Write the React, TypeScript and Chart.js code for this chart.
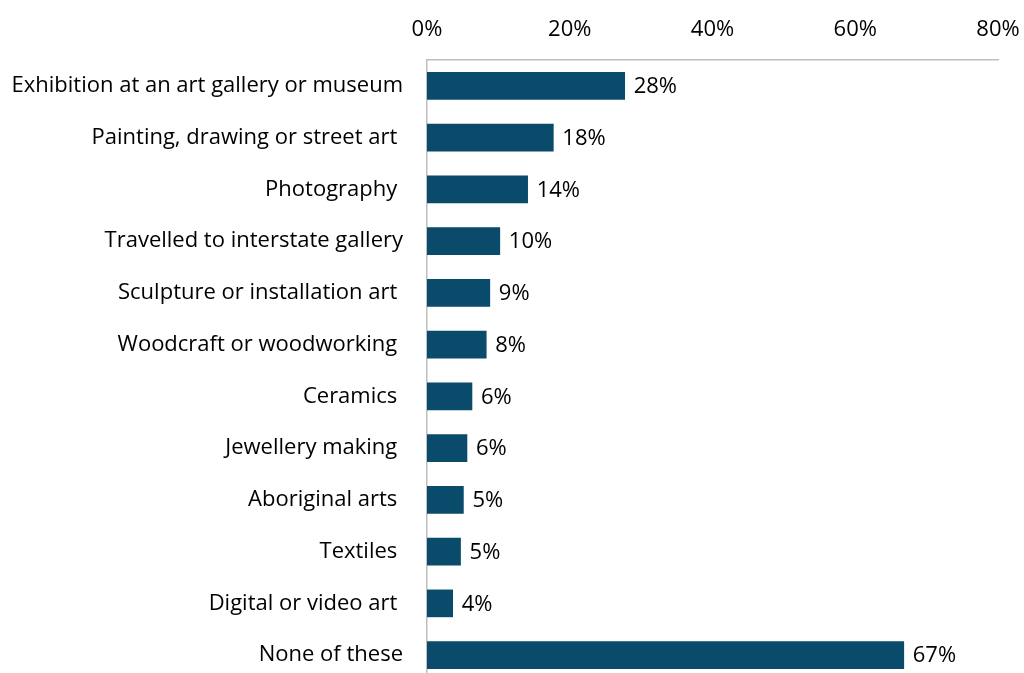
import React, { useEffect, useRef } from "react";
import { Chart, registerables } from "chart.js";

Chart.register(...registerables);

const categories = [
  "Exhibition at an art gallery or museum",
  "Painting, drawing or street art ",
  "Photography ",
  "Travelled to interstate gallery",
  "Sculpture or installation art ",
  "Woodcraft or woodworking ",
  "Ceramics ",
  "Jewellery making ",
  "Aboriginal arts ",
  "Textiles ",
  "Digital or video art ",
  "None of these",
];
const values = [27.7, 17.7, 14.1, 10.2, 8.8, 8.3, 6.3, 5.6, 5.1, 4.7, 3.6, 66.8];
const valueLabels = ["28%", "18%", "14%", "10%", "9%", "8%", "6%", "6%", "5%", "5%", "4%", "67%"];
const xTicks = [0, 20, 40, 60, 80];

const FONT = "'Open Sans'";
const SIZE = 22;

const valueLabelPlugin = {
  id: "valueLabels",
  afterDatasetsDraw(chart: any) {
    const ctx = chart.ctx;
    const meta = chart.getDatasetMeta(0);
    ctx.save();
    ctx.font = `${SIZE}px ${FONT}`;
    ctx.fillStyle = "#000";
    ctx.textAlign = "left";
    ctx.textBaseline = "middle";
    meta.data.forEach((bar: any, i: number) => {
      ctx.fillText(valueLabels[i], bar.x + 9, bar.y + 1);
    });
    ctx.restore();
  },
};

export default function App() {
  const ref = useRef<HTMLCanvasElement>(null);
  useEffect(() => {
    document.body.style.margin = "0";
    const chart = new Chart(ref.current!, {
      type: "bar",
      data: {
        labels: categories,
        datasets: [
          {
            data: values,
            backgroundColor: "#0a4a6b",
            borderWidth: 0,
            barThickness: 27,
          },
        ],
      },
      options: {
        indexAxis: "y",
        animation: false,
        responsive: false,
        layout: { padding: { left: 0, right: 26, top: 0, bottom: 0 } },
        plugins: { legend: { display: false }, tooltip: { enabled: false } },
        scales: {
          x: {
            position: "top",
            min: 0,
            max: 80,
            afterBuildTicks(scale: any) {
              scale.ticks = xTicks.map((v) => ({ value: v }));
            },
            afterFit(scale: any) {
              scale.height = 60;
              scale.paddingLeft = 0;
              scale.paddingRight = 0;
            },
            grid: { display: false, drawTicks: false },
            border: { display: true, color: "#bfbfbf", width: 1.5 },
            ticks: {
              padding: 17,
              color: "#000",
              font: { family: FONT, size: SIZE },
              callback: (v: any) => `${v}%`,
              maxRotation: 0,
            },
          },
          y: {
            afterFit(scale: any) {
              scale.width = 427;
              scale.paddingTop = 0;
              scale.paddingBottom = 0;
            },
            grid: { display: false, drawTicks: false },
            border: { display: true, color: "#bfbfbf", width: 1.5 },
            ticks: {
              padding: 24,
              color: "#000",
              font: { family: FONT, size: SIZE },
              autoSkip: false,
            },
          },
        },
      },
      plugins: [valueLabelPlugin],
    });
    return () => chart.destroy();
  }, []);
  return (
    <div style={{ position: "absolute", left: 0, top: 0, width: 1024, height: 673, overflow: "hidden", background: "#fff" }}>
      <canvas ref={ref} width={1024} height={681} style={{ display: "block" }} />
    </div>
  );
}
